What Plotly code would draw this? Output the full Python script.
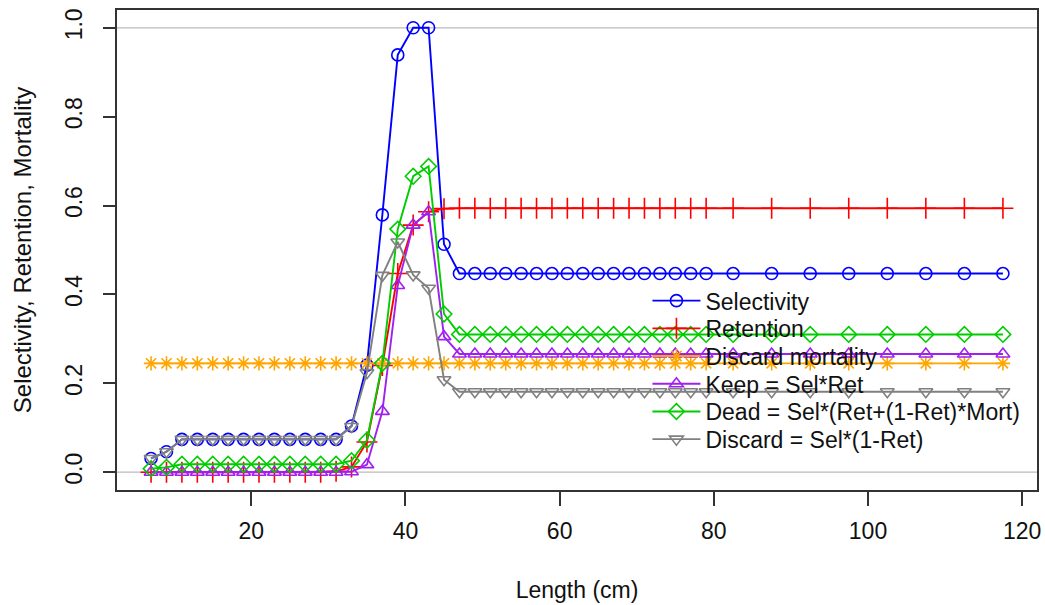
import plotly.graph_objects as go

# ---------------- data ----------------
length_cm = [7, 9, 11, 13, 15, 17, 19, 21, 23, 25, 27, 29, 31, 33, 35, 37, 39, 41, 43, 45,
             47, 49, 51, 53, 55, 57, 59, 61, 63, 65, 67, 69, 71, 73, 75, 77, 79,
             82.5, 87.5, 92.5, 97.5, 102.5, 107.5, 112.5, 117.5]

selectivity = [0.031, 0.046, 0.074, 0.074, 0.074, 0.074, 0.074, 0.074, 0.074, 0.074, 0.074, 0.074, 0.074,
               0.104, 0.241, 0.579, 0.939, 1.0, 1.0, 0.513,
               0.447, 0.447, 0.447, 0.447, 0.447, 0.447, 0.447, 0.447, 0.447, 0.447, 0.447, 0.447,
               0.447, 0.447, 0.447, 0.447, 0.447,
               0.447, 0.447, 0.447, 0.447, 0.447, 0.447, 0.447, 0.447]

retention = [0.0, 0.0, 0.0, 0.0, 0.0, 0.0, 0.0, 0.0, 0.0, 0.0, 0.0, 0.0, 0.002,
             0.012, 0.068, 0.24, 0.447, 0.556, 0.586, 0.593,
             0.594, 0.594, 0.594, 0.594, 0.594, 0.594, 0.594, 0.594, 0.594, 0.594, 0.594, 0.594,
             0.594, 0.594, 0.594, 0.594, 0.594,
             0.594, 0.594, 0.594, 0.594, 0.594, 0.594, 0.594, 0.594]

discard_mortality = [0.245] * 45

keep = [0.0, 0.0, 0.0, 0.0, 0.0, 0.0, 0.0, 0.0, 0.0, 0.0, 0.0, 0.0, 0.0,
        0.001, 0.017, 0.137, 0.42, 0.556, 0.586, 0.305,
        0.266, 0.266, 0.266, 0.266, 0.266, 0.266, 0.266, 0.266, 0.266, 0.266, 0.266, 0.266,
        0.266, 0.266, 0.266, 0.266, 0.266,
        0.266, 0.266, 0.266, 0.266, 0.266, 0.266, 0.266, 0.266]

dead = [0.008, 0.011, 0.018, 0.018, 0.018, 0.018, 0.018, 0.018, 0.018, 0.018, 0.018, 0.018, 0.018,
        0.026, 0.072, 0.245, 0.547, 0.666, 0.688, 0.356,
        0.31, 0.31, 0.31, 0.31, 0.31, 0.31, 0.31, 0.31, 0.31, 0.31, 0.31, 0.31,
        0.31, 0.31, 0.31, 0.31, 0.31,
        0.31, 0.31, 0.31, 0.31, 0.31, 0.31, 0.31, 0.31]

discard = [0.031, 0.046, 0.074, 0.074, 0.074, 0.074, 0.074, 0.074, 0.074, 0.074, 0.074, 0.074, 0.074,
           0.103, 0.224, 0.443, 0.518, 0.444, 0.414, 0.208,
           0.181, 0.181, 0.181, 0.181, 0.181, 0.181, 0.181, 0.181, 0.181, 0.181, 0.181, 0.181,
           0.181, 0.181, 0.181, 0.181, 0.181,
           0.181, 0.181, 0.181, 0.181, 0.181, 0.181, 0.181, 0.181]

series_names = ["Selectivity", "Retention", "Discard mortality", "Keep = Sel*Ret",
                "Dead = Sel*(Ret+(1-Ret)*Mort)", "Discard = Sel*(1-Ret)"]
series_values = [selectivity, retention, discard_mortality, keep, dead, discard]
series_colors = ["#0000FF", "#FF0000", "#FFA500", "#A020F0", "#00CD00", "#808080"]
series_symbols = ["circle-open", "cross-thin-open", "asterisk-open", "triangle-up-open",
                  "diamond-open", "triangle-down-open"]
series_sizes = [12, 15, 12, 12, 12, 12]

x_ticks = [20, 40, 60, 80, 100, 120]
y_ticks = [0.0, 0.2, 0.4, 0.6, 0.8, 1.0]
y_tick_labels = ["0.0", "0.2", "0.4", "0.6", "0.8", "1.0"]
ref_lines = [0, 1]

# ---------------- layout constants ----------------
W, H = 1045, 605
ML, MR, MT, MB = 116.5, 8.4, 10, 115
plot_h = H - MT - MB
FONT = "Liberation Sans, Arial, Helvetica, sans-serif"
legend_rows_px = [300.7, 328.4, 356.1, 383.8, 411.5, 439.2]
legend_item_w = 48
legend_left_px = 706 - legend_item_w - 11

fig = go.Figure()
for i, (name, vals, col, sym, sz) in enumerate(zip(series_names, series_values, series_colors,
                                                   series_symbols, series_sizes)):
    lg = "legend" if i == 0 else f"legend{i+1}"
    fig.add_trace(go.Scatter(
        x=length_cm, y=vals, name=name, mode="lines+markers",
        line=dict(color=col, width=1.9),
        marker=dict(symbol=sym, size=sz, color=col, line=dict(color=col, width=1.6)),
        legend=lg,
    ))

for r in ref_lines:
    fig.add_shape(type="line", xref="paper", x0=0, x1=1, yref="y", y0=r, y1=r,
                  line=dict(color="#BBBBBB", width=1.2), layer="below")

legend_common = dict(
    bgcolor="rgba(0,0,0,0)", borderwidth=0,
    font=dict(family=FONT, size=23, color="#111111"),
    xanchor="left", yanchor="middle", itemwidth=legend_item_w,
)
lx = (legend_left_px - ML) / (W - ML - MR)
layout_legends = {}
for i, py in enumerate(legend_rows_px):
    key = "legend" if i == 0 else f"legend{i+1}"
    layout_legends[key] = dict(legend_common, x=lx, y=(H - MB - py) / plot_h)

fig.update_layout(
    width=W, height=H,
    margin=dict(l=ML, r=MR, t=MT, b=MB, autoexpand=False),
    paper_bgcolor="white", plot_bgcolor="white",
    font=dict(family=FONT, size=23, color="#111111"),
    showlegend=True,
    **layout_legends,
)

fig.update_xaxes(
    range=[2.58, 121.92], tickvals=x_ticks, ticks="outside", ticklen=14, tickwidth=1.5,
    tickcolor="#333333", showgrid=False, zeroline=False,
    showline=True, linecolor="#333333", linewidth=1.6, mirror=True,
    tickfont=dict(size=23), ticklabelstandoff=6,
    title=dict(text="Length (cm)", font=dict(size=23), standoff=38),
)
fig.update_yaxes(
    range=[-0.04, 1.04], tickvals=y_ticks, ticktext=y_tick_labels, ticks="outside", ticklen=12,
    tickwidth=1.5, tickcolor="#333333", showgrid=False, zeroline=False,
    showline=True, linecolor="#333333", linewidth=1.6, mirror=True,
    tickangle=-90, tickfont=dict(size=23), ticklabelstandoff=12,
    title=dict(text="Selectivity, Retention, Mortality", font=dict(size=24), standoff=23),
)

fig.write_html("out.html", config={"displayModeBar": False},
               post_script="document.body.style.margin='0';")
